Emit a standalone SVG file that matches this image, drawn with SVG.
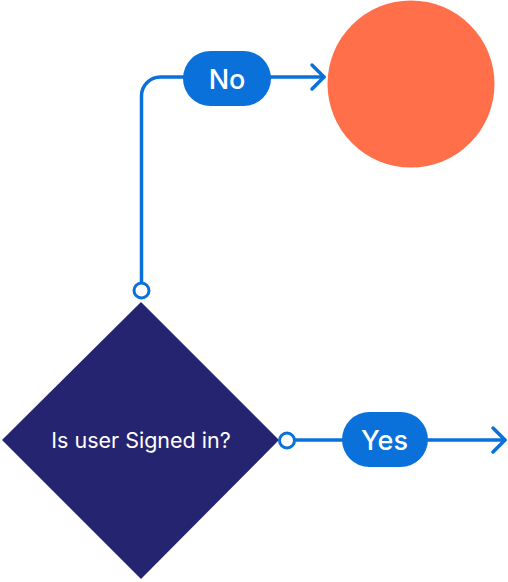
<svg xmlns="http://www.w3.org/2000/svg" width="508" height="582" viewBox="0 0 508 582">
<style>
.line{fill:none;stroke:#0A70DA;stroke-width:3.5;stroke-linecap:round;stroke-linejoin:round}
.port{fill:#fff;stroke:#0A70DA;stroke-width:3}
.pill{fill:#0A70DA}
.lbl{font-family:Inter,"Noto Sans",sans-serif;fill:#fff;text-anchor:middle;dominant-baseline:central}
</style>
<rect width="508" height="582" fill="#fff"/>
<g id="connectors">
<path class="line" d="M141.5 283 V96 A19 19 0 0 1 160.5 77 H324"/>
<path class="line" d="M312 65 L324 77 L312 89"/>
<path class="line" d="M295 440 H505"/>
<path class="line" d="M493 428 L505 440 L493 452"/>
</g>
<g id="end-circle">
<circle cx="411" cy="84" r="83.5" fill="#FF6F4A"/>
</g>
<g id="decision">
<polygon points="141,302 279,440 141,579 2,440" fill="#252470"/>
<text class="lbl" x="141" y="440" font-size="21.5">Is user Signed in?</text>
</g>
<g id="label-no">
<rect class="pill" x="183" y="51" width="88" height="55" rx="27.5"/>
<text class="lbl" x="227" y="79" font-size="27" font-weight="500">No</text>
</g>
<g id="label-yes">
<rect class="pill" x="342" y="412" width="86" height="55" rx="27.5"/>
<text class="lbl" x="384.5" y="440" font-size="27" font-weight="500">Yes</text>
</g>
<g id="ports">
<circle class="port" cx="141.5" cy="290.5" r="7.5"/>
<circle class="port" cx="287" cy="440.5" r="7.5"/>
</g>
</svg>
